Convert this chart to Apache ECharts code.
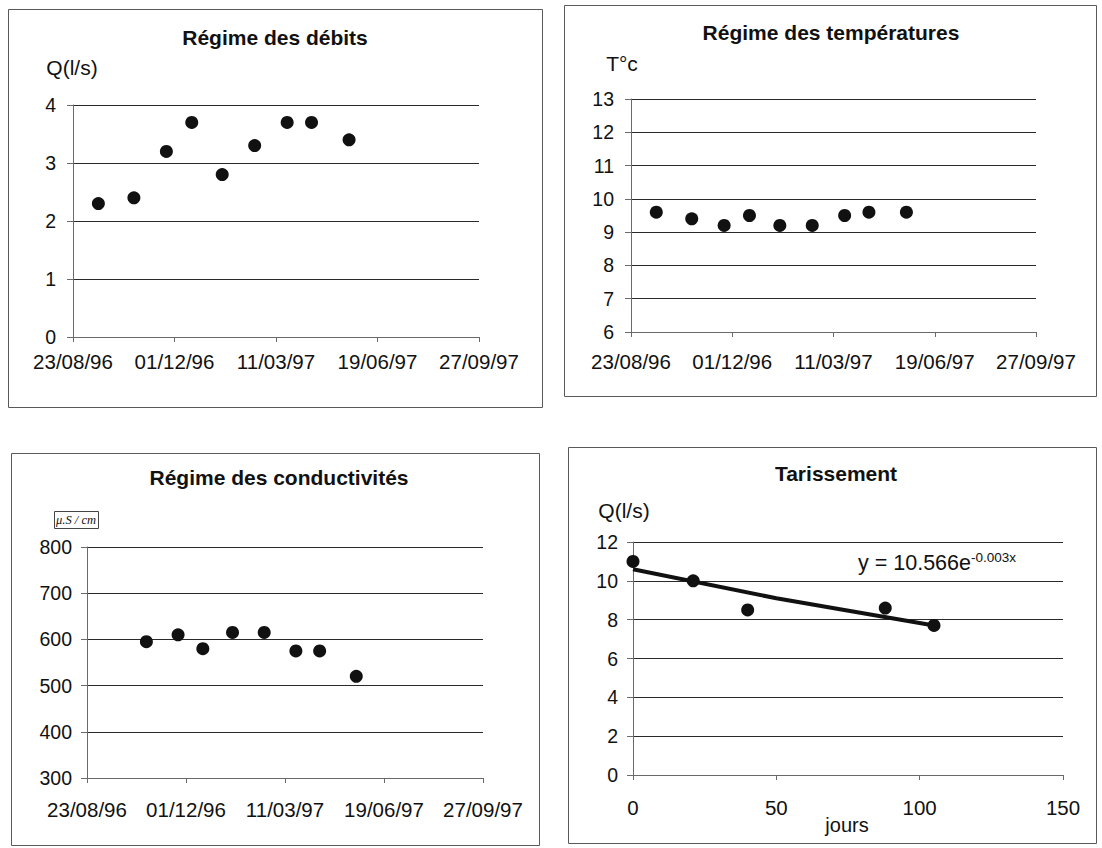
<!DOCTYPE html>
<html>
<head>
<meta charset="utf-8">
<script src="https://cdn.jsdelivr.net/npm/echarts@6/dist/echarts.min.js"></script>
<style>
  html, body { margin: 0; padding: 0; background: #fff; }
  #chart { width: 1102px; height: 848px; }
</style>
</head>
<body>
<div id="chart"></div>
<script>
// ---------- DATA ----------
const dateTicks = ['23/08/96', '01/12/96', '11/03/97', '19/06/97', '27/09/97'];
const sampleDates = ['1996-09-17', '1996-10-22', '1996-11-23', '1996-12-18', '1997-01-17',
                     '1997-02-18', '1997-03-22', '1997-04-15', '1997-05-22'];
const debits = [2.3, 2.4, 3.2, 3.7, 2.8, 3.3, 3.7, 3.7, 3.4];
const temperatures = [9.6, 9.4, 9.2, 9.5, 9.2, 9.2, 9.5, 9.6, 9.6];
const condDates = ['1996-10-22', '1996-11-23', '1996-12-18', '1997-01-17',
                   '1997-02-18', '1997-03-22', '1997-04-15', '1997-05-22'];
const conductivites = [595, 610, 580, 615, 615, 575, 575, 520];
const tarJours = [0, 21, 40, 88, 105];
const tarDebits = [11.0, 10.0, 8.5, 8.6, 7.7];
const trendJours = [0, 50, 105];
const trendDebits = [10.6, 9.1, 7.7];
const titles = ['Régime des débits', 'Régime des températures', 'Régime des conductivités', 'Tarissement'];
const equationMain = 'y = 10.566e';
const equationExp = '-0.003x';

// ---------- helpers ----------
const FONT = '"Liberation Sans", Arial, sans-serif';
const EPOCH = Date.UTC(1899, 11, 30);
function isoToSerial(s) {
  const p = s.split('-').map(Number);
  return Math.round((Date.UTC(p[0], p[1] - 1, p[2]) - EPOCH) / 86400000);
}
function tickToSerial(s) {
  const p = s.split('/').map(Number);
  return Math.round((Date.UTC(1900 + p[2], p[1] - 1, p[0]) - EPOCH) / 86400000);
}
function fmtDate(v) {
  const d = new Date(EPOCH + v * 86400000);
  const dd = String(d.getUTCDate()).padStart(2, '0');
  const mm = String(d.getUTCMonth() + 1).padStart(2, '0');
  const yy = String(d.getUTCFullYear() % 100).padStart(2, '0');
  return dd + '/' + mm + '/' + yy;
}
const dMin = tickToSerial(dateTicks[0]);
const dMax = tickToSerial(dateTicks[dateTicks.length - 1]);
const dInt = tickToSerial(dateTicks[1]) - dMin;

const AXIS_COLOR = '#6a6a6a';
const GRID_COLOR = '#2a2a2a';
const TEXT_COLOR = '#111';

function dateAxis(gi, margin) {
  return {
    type: 'value', gridIndex: gi, min: dMin, max: dMax, interval: dInt,
    axisLine: { show: true, onZero: false, lineStyle: { color: AXIS_COLOR, width: 1 } },
    axisTick: { show: true, length: 5, lineStyle: { color: AXIS_COLOR } },
    axisLabel: { formatter: fmtDate, fontSize: 20.5, color: TEXT_COLOR, fontFamily: FONT, margin: margin },
    splitLine: { show: false }
  };
}
function valAxis(gi, min, max, interval, margin) {
  return {
    type: 'value', gridIndex: gi, min: min, max: max, interval: interval,
    axisLine: { show: true, onZero: false, lineStyle: { color: AXIS_COLOR, width: 1 } },
    axisTick: { show: true, length: 6, lineStyle: { color: AXIS_COLOR } },
    axisLabel: { fontSize: 19.5, color: TEXT_COLOR, fontFamily: FONT, margin: margin },
    splitLine: { show: true, lineStyle: { color: GRID_COLOR, width: 1 } }
  };
}
function text(x, y, str, size, weight, extra) {
  return Object.assign({
    type: 'text', x: x, y: y, silent: true,
    style: {
      text: str, fill: TEXT_COLOR,
      font: (weight || 'normal') + ' ' + size + 'px ' + FONT,
      textAlign: 'center', textVerticalAlign: 'middle',
      align: 'center', verticalAlign: 'middle'
    }
  }, extra || {});
}
function frame(x, y, w, h) {
  return { type: 'rect', silent: true, shape: { x: x, y: y, width: w, height: h },
           style: { fill: 'none', stroke: '#5a5a5a', lineWidth: 1 } };
}
const marker = { color: '#111', opacity: 1 };

const chart = echarts.init(document.getElementById('chart'), null, { renderer: 'svg' });
chart.setOption({
  backgroundColor: '#fff',
  animation: false,
  grid: [
    { left: 73, top: 105, width: 406, height: 232 },
    { left: 631, top: 99, width: 405, height: 233 },
    { left: 87, top: 547, width: 396, height: 231 },
    { left: 633, top: 542, width: 430, height: 233 }
  ],
  xAxis: [
    dateAxis(0, 14),
    dateAxis(1, 19),
    dateAxis(2, 21),
    {
      type: 'value', gridIndex: 3, min: 0, max: 150, interval: 50,
      axisLine: { show: true, onZero: false, lineStyle: { color: AXIS_COLOR } },
      axisTick: { show: true, length: 5, lineStyle: { color: AXIS_COLOR } },
      axisLabel: { fontSize: 20.5, color: TEXT_COLOR, fontFamily: FONT, margin: 22 },
      splitLine: { show: false }
    }
  ],
  yAxis: [
    valAxis(0, 0, 4, 1, 17),
    valAxis(1, 6, 13, 1, 17),
    valAxis(2, 300, 800, 100, 15),
    valAxis(3, 0, 12, 2, 15)
  ],
  series: [
    { type: 'scatter', xAxisIndex: 0, yAxisIndex: 0, symbolSize: 13, itemStyle: marker,
      data: sampleDates.map((d, i) => [isoToSerial(d), debits[i]]) },
    { type: 'scatter', xAxisIndex: 1, yAxisIndex: 1, symbolSize: 13, itemStyle: marker,
      data: sampleDates.map((d, i) => [isoToSerial(d), temperatures[i]]) },
    { type: 'scatter', xAxisIndex: 2, yAxisIndex: 2, symbolSize: 13, itemStyle: marker,
      data: condDates.map((d, i) => [isoToSerial(d), conductivites[i]]) },
    { type: 'scatter', xAxisIndex: 3, yAxisIndex: 3, symbolSize: 13, itemStyle: marker,
      data: tarJours.map((x, i) => [x, tarDebits[i]]) },
    { type: 'line', xAxisIndex: 3, yAxisIndex: 3, showSymbol: false, symbol: 'none',
      lineStyle: { color: '#111', width: 4 },
      data: trendJours.map((x, i) => [x, trendDebits[i]]) }
  ],
  graphic: [
    frame(8.5, 9.5, 534, 398),
    frame(564.5, 5.5, 532, 391),
    frame(11.5, 453.5, 528, 392),
    frame(568.5, 447.5, 528, 396),
    text(275, 37, titles[0], 21, 'bold'),
    text(831, 32, titles[1], 21, 'bold'),
    text(279, 477, titles[2], 21, 'bold'),
    text(836, 473, titles[3], 21, 'bold'),
    text(72, 67, 'Q(l/s)', 21),
    text(622, 63, 'T°c', 21),
    { type: 'rect', silent: true, shape: { x: 54.5, y: 511.5, width: 44, height: 17 },
      style: { fill: '#fff', stroke: '#444', lineWidth: 1 } },
    { type: 'text', x: 76, y: 520, silent: true,
      style: { text: 'μ.S / cm', fill: TEXT_COLOR, font: 'italic 12.5px "Liberation Serif", "Times New Roman", serif',
               textAlign: 'center', textVerticalAlign: 'middle', align: 'center', verticalAlign: 'middle' } },
    text(624, 510, 'Q(l/s)', 21),
    text(847, 825, 'jours', 20),
    { type: 'text', x: 858, y: 550, silent: true,
      style: {
        text: '{m|' + equationMain + '}{s|' + equationExp + '}',
        fill: TEXT_COLOR, textAlign: 'left', align: 'left',
        textVerticalAlign: 'top', verticalAlign: 'top',
        rich: {
          m: { fontSize: 21.5, fontFamily: FONT, lineHeight: 24, verticalAlign: 'bottom', fill: TEXT_COLOR },
          s: { fontSize: 13.5, fontFamily: FONT, lineHeight: 24, verticalAlign: 'top', fill: TEXT_COLOR }
        }
      } }
  ]
});
</script>
</body>
</html>
